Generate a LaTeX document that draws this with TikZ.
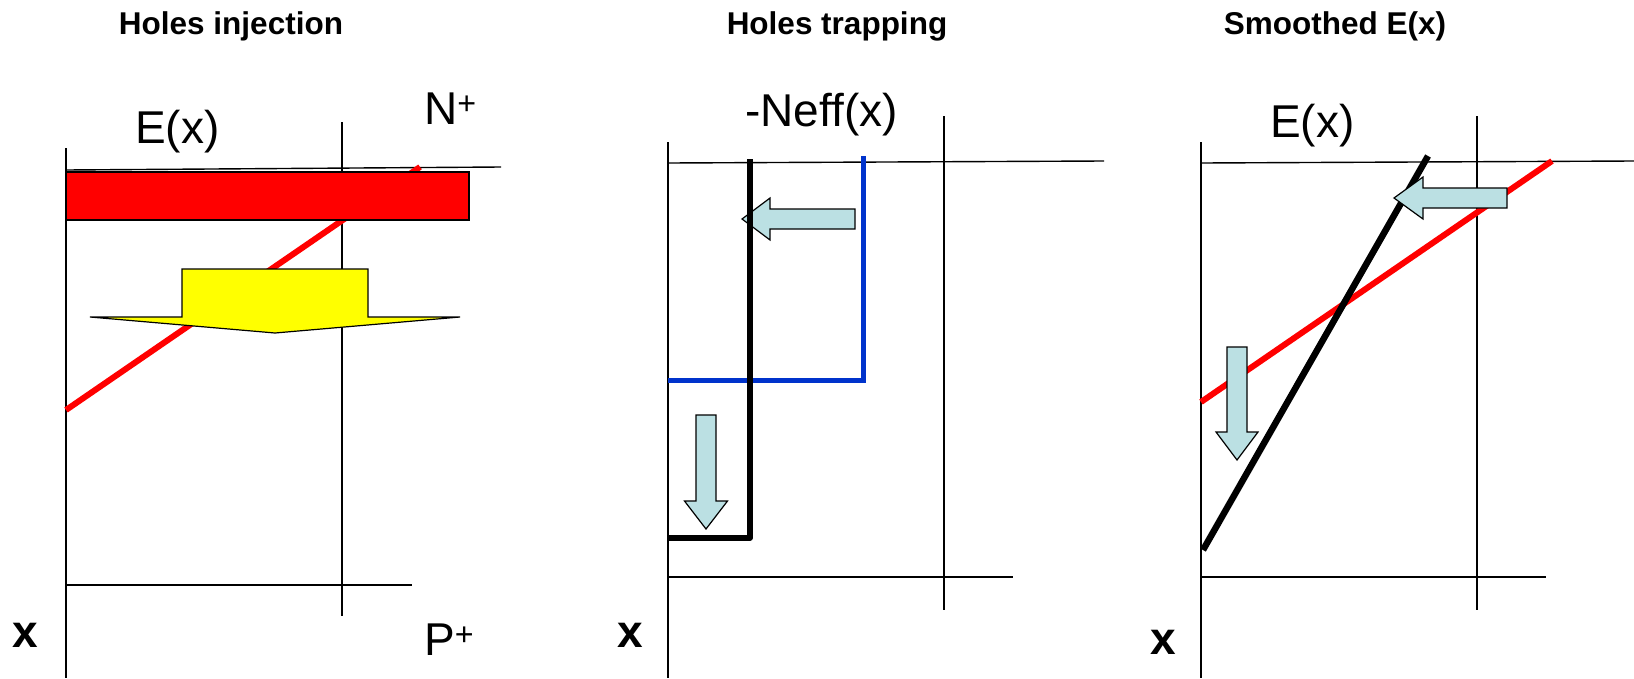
\documentclass[tikz,border=0pt]{standalone}
\usepackage{fontspec}
\setmainfont{Liberation Sans}
\usepackage{tikz}
\usetikzlibrary{positioning}
\definecolor{darkred}{RGB}{255,0,0}
\definecolor{trapblue}{RGB}{0,51,204}
\definecolor{lightcyan}{RGB}{187,224,227}
\definecolor{arrowyellow}{RGB}{255,255,0}

\begin{document}
\begin{tikzpicture}[
        x=1pt, y=-1pt,
        axis/.style={draw=black, line width=1.4pt},
        field/.style={draw=darkred, line width=6pt},
        profile/.style={draw=black, line width=5.5pt},
        blockarrow/.style={draw=black, fill=lightcyan, line width=1.2pt, line join=miter},
        title/.style={font=\fontsize{31.5}{36}\selectfont\bfseries, anchor=base, inner sep=0pt},
        label/.style={font=\fontsize{46}{50}\selectfont, anchor=base west, inner sep=0pt},
        xlabel/.style={font=\fontsize{46}{50}\selectfont\bfseries, anchor=base west, inner sep=0pt}
    ]
        \useasboundingbox (0,0) rectangle (1634,678);

        % Titles
        \node[title] (tInj) at (231,34) {Holes injection};
        \node[title] (tTrap) at (837,34) {Holes trapping};
        \node[title] (tSmooth) at (1335,34) {Smoothed E(x)};

        % Panel 1: holes injection
        \draw[axis] (66,148) -- (66,678);
        \draw[axis] (342,122) -- (342,616);
        \draw[axis] (66,170) -- (501,167);
        \draw[axis] (66,585) -- (412,585);
        \draw[field] (66,410) -- (420,167);
        \draw[draw=black, fill=darkred, line width=1.2pt] (66,172) rectangle (469,220);
        \draw[draw=black, fill=arrowyellow, line width=1.2pt]
            (182,269) -- (368,269) -- (368,317) -- (460,317) -- (275,333)
            -- (90,317) -- (182,317) -- cycle;
        \node[label] (E1) at (135,143) {E(x)};
        \node[label] (Nplus) at (424,124) {N\textsuperscript{+}};
        \node[label] (Pplus) at (424,655) {P\textsuperscript{+}};
        \node[xlabel] (x1) at (12,647) {x};

        % Panel 2: holes trapping
        \draw[axis] (668,142) -- (668,678);
        \draw[axis] (944,116) -- (944,610);
        \draw[axis] (668,163) -- (1104,161);
        \draw[axis] (668,577) -- (1013,577);
        \draw[blockarrow] (742,219) -- (770,198) -- (770,209) -- (855,209)
            -- (855,229) -- (770,229) -- (770,240) -- cycle;
        \draw[blockarrow] (706,529) -- (684.5,501) -- (696,501) -- (696,415)
            -- (716,415) -- (716,501) -- (727.5,501) -- cycle;
        \draw[draw=trapblue, line width=5pt, line join=miter] (863,156) -- (863,380) -- (668,380);
        \draw[profile, line join=round] (750,159) -- (750,538) -- (668,538);
        \node[label] (Neff) at (745,126) {-Ne{}f{}f(x)};
        \node[xlabel] (x2) at (617,647) {x};

        % Panel 3: smoothed field
        \draw[axis] (1201,142) -- (1201,678);
        \draw[axis] (1477,116) -- (1477,610);
        \draw[axis] (1201,163) -- (1634,161);
        \draw[axis] (1201,577) -- (1546,577);
        \draw[field] (1201,402) -- (1552,161);
        \draw[profile, line width=6.5pt] (1203,550) -- (1428,156);
        \draw[blockarrow] (1394,198) -- (1423,177) -- (1423,188) -- (1507,188)
            -- (1507,208) -- (1423,208) -- (1423,219) -- cycle;
        \draw[blockarrow] (1237,460) -- (1216,432) -- (1227,432) -- (1227,347)
            -- (1247,347) -- (1247,432) -- (1258,432) -- cycle;
        \node[label] (E3) at (1270,137) {E(x)};
        \node[xlabel] (x3) at (1150,654) {x};
    \end{tikzpicture}
\end{document}
